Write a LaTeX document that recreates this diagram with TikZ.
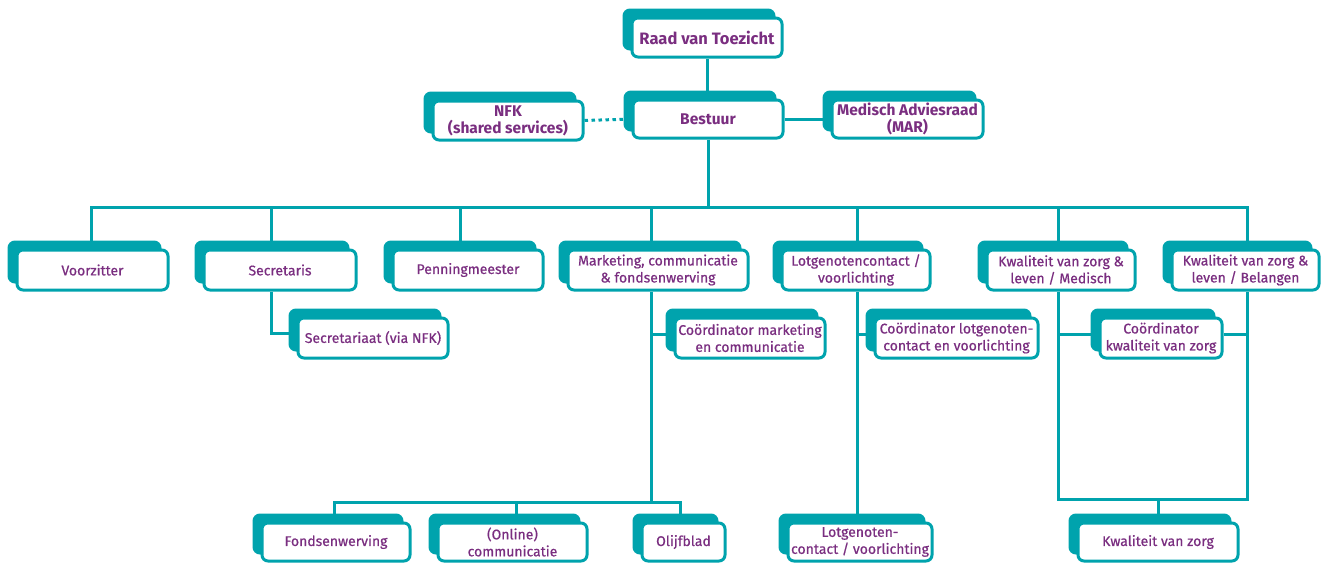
\documentclass[tikz,border=0pt]{standalone}
\usepackage{fontspec}
\setmainfont{Fira Sans}
\newfontfamily\boxfont[FakeBold=0.6]{Fira Sans}
\usetikzlibrary{shadows,backgrounds}
\definecolor{orgteal}{RGB}{0,163,173}
\definecolor{orgpurple}{RGB}{122,46,128}

\begin{document}
\begin{tikzpicture}[x=1pt, y=-1pt,
        orgbox/.style={draw=orgteal, fill=white, line width=3pt, rounded corners=6pt,
            text=orgpurple, font=\boxfont\fontsize{14}{17}\selectfont, align=center, inner sep=0pt,
            minimum width=150pt, minimum height=40pt,
            copy shadow={shadow xshift=-8pt, shadow yshift=8pt, fill=orgteal, draw=orgteal}},
        topbox/.style={orgbox, minimum height=39pt, font=\fontsize{15.5}{17}\selectfont\bfseries},
        link/.style={draw=orgteal, line width=3pt}]
        \useasboundingbox (0,0) rectangle (1323,563);

        % top
        \node (raad) [topbox, font=\fontsize{16.5}{17}\selectfont\bfseries] at (707,37.5) {Raad van Toezicht};
        \node (nfk) [topbox] at (508,120.5) {NFK\\(shared services)};
        \node (bestuur) [topbox, minimum height=38pt] at (708,119) {Bestuur};
        \node (mar) [topbox, minimum width=151pt, minimum height=38pt] at (907.5,119) {Medisch Adviesraad\\(MAR)};

        % second row
        \node (voorzitter) [orgbox, minimum width=151pt] at (92.5,270) {Voorzitter};
        \node (secretaris) [orgbox, minimum width=152pt] at (280,270) {Secretaris};
        \node (penning) [orgbox] at (468,270) {Penningmeester};
        \node (marketing) [orgbox, minimum width=180pt] at (658,270) {Marketing, communicatie\\\& fondsenwerving};
        \node (lotgen) [orgbox, minimum width=148pt] at (856,270) {Lotgenotencontact /\\voorlichting};
        \node (kwalmed) [orgbox, minimum width=148pt] at (1061,270) {Kwaliteit van zorg \&\\leven / Medisch};
        \node (kwalbel) [orgbox, minimum width=147pt] at (1245.5,270) {Kwaliteit van zorg \&\\leven / Belangen};

        % coordinators
        \node (secretariaat) [orgbox] at (373,338) {Secretariaat (via NFK)};
        \node (coordmark) [orgbox] at (750,338) {Coördinator marketing\\en communicatie};
        \node (coordlot) [orgbox, minimum width=163pt] at (956.5,338) {Coördinator lotgenoten-\\contact en voorlichting};
        \node (coordkwal) [orgbox, minimum width=122pt] at (1161,338) {Coördinator\\kwaliteit van zorg};

        % bottom row
        \node (fonds) [orgbox, minimum width=148pt, minimum height=38pt] at (336,542) {Fondsenwerving};
        \node (online) [orgbox, minimum width=149pt, minimum height=38pt] at (512.5,542) {(Online)\\communicatie};
        \node (olijf) [orgbox, minimum width=83pt, minimum height=38pt] at (683.5,542) {Olijfblad};
        \node (lotgentwo) [orgbox, minimum width=144pt, minimum height=38pt] at (860,542) {Lotgenoten-\\contact / voorlichting};
        \node (kwal) [orgbox, minimum width=160pt, minimum height=38pt] at (1158,542) {Kwaliteit van zorg};

        \begin{pgfonlayer}{background}
            \draw [link] (raad.south) -- (raad |- bestuur.north);
            \draw [link] (bestuur.east) -- (mar.west);
            \draw [link, dash pattern=on 3.5pt off 3.5pt] (nfk.east) -- (bestuur.west);

            \coordinate (bus) at (707,207);
            \draw [link] (bestuur.south) -- (bestuur |- bus);
            \foreach \n/\dx in {voorzitter/-1.5, secretaris/-9, penning/-8, marketing/-7, lotgen/1, kwalmed/-3, kwalbel/1.5}
                \draw [link] (bus) -| ([xshift=\dx pt]\n.north);

            \draw [link] ([xshift=-9pt]secretaris.south) |- ([yshift=5pt]secretariaat.west);

            \coordinate (mkspine) at ([xshift=-7pt]marketing.south);
            \coordinate (mkbus) at (651,502);
            \draw [link] (mkspine) -- (mkbus);
            \draw [link] ([yshift=4pt]coordmark.west) -| (mkspine);
            \foreach \n/\dx in {fonds/-2, online/3.5, olijf/-3.5}
                \draw [link] (mkbus) -| ([xshift=\dx pt]\n.north);

            \coordinate (ltspine) at ([xshift=1pt]lotgen.south);
            \draw [link] (ltspine) -- (ltspine |- lotgentwo.north);
            \draw [link] ([yshift=4pt]coordlot.west) -| (ltspine);

            \coordinate (kmspine) at ([xshift=-3pt]kwalmed.south);
            \coordinate (kbspine) at ([xshift=1.5pt]kwalbel.south);
            \coordinate (kwbus) at (1058,499);
            \draw [link] (kmspine) -- (kwbus) -- (kwbus -| kbspine) -- (kbspine);
            \draw [link] ([yshift=4pt]coordkwal.west) -| (kmspine);
            \draw [link] ([yshift=4pt]coordkwal.east) -| (kbspine);
            \draw [link] (kwbus -| kwal.north) -- (kwal.north);
        \end{pgfonlayer}
    \end{tikzpicture}
\end{document}
